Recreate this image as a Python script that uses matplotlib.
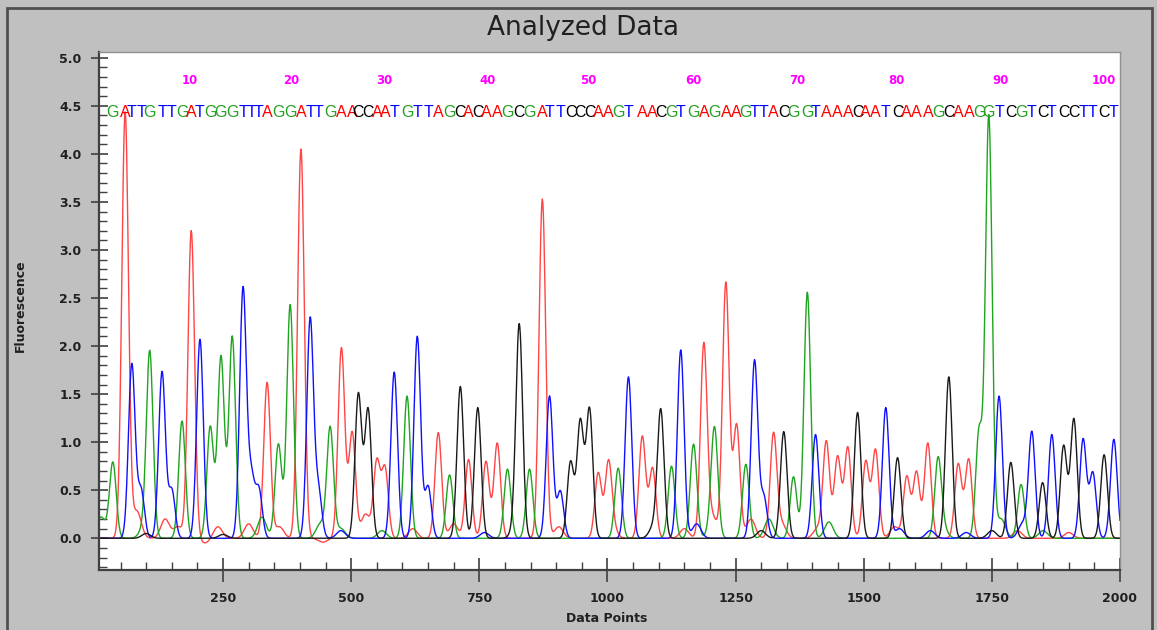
import numpy as np
import matplotlib
matplotlib.use("Agg")
import matplotlib.pyplot as plt
from matplotlib.patches import Rectangle
from matplotlib.ticker import MultipleLocator

plt.rcParams['font.family'] = ['Liberation Sans', 'DejaVu Sans']

# Base calls (sequence), peak positions (data points) and peak heights
sequence = ("GATTGTTGAT" "GGGTTTAGGA" "TTGAACCAAT" "GTTAGCACAA" "GCGATTCCCA"
            "AGTAACGTGA" "GAAGTTACGG" "TAAACAATCA" "AAGCAAGGTC" "GTCTCCTTCT")
base_pos = [35, 59, 72, 90, 107, 131, 150, 170, 188, 205,
            225, 246, 268, 289, 305, 320, 336, 358, 381, 402,
            420, 436, 459, 481, 502, 514, 533, 550, 566, 584,
            609, 629, 650, 670, 692, 713, 729, 747, 763, 785,
            805, 828, 848, 873, 887, 908, 928, 947, 965, 982,
            1002, 1021, 1041, 1068, 1088, 1104, 1125, 1143, 1168, 1188,
            1209, 1231, 1252, 1270, 1287, 1305, 1324, 1344, 1363, 1390,
            1406, 1427, 1449, 1469, 1488, 1504, 1523, 1543, 1566, 1584,
            1603, 1625, 1645, 1666, 1684, 1705, 1725, 1744, 1764, 1787,
            1807, 1828, 1849, 1867, 1890, 1910, 1928, 1947, 1969, 1988]
base_height = [0.79, 4.43, 1.81, 0.50, 1.92, 1.73, 0.50, 1.22, 3.20, 2.07,
               1.16, 1.89, 2.10, 2.59, 0.62, 0.50, 1.62, 0.98, 2.43, 4.05,
               2.28, 0.50, 1.15, 1.98, 1.10, 1.50, 1.34, 0.79, 0.72, 1.73,
               1.48, 2.10, 0.54, 1.10, 0.66, 1.58, 0.82, 1.36, 0.80, 0.99,
               0.72, 2.17, 0.72, 3.53, 1.48, 0.49, 0.79, 1.21, 1.34, 0.68,
               0.75, 0.73, 1.68, 1.06, 0.73, 1.32, 0.75, 1.96, 0.98, 2.01,
               1.03, 2.66, 1.18, 0.77, 1.85, 0.43, 1.08, 1.11, 0.64, 2.56,
               1.08, 1.00, 0.75, 0.94, 1.31, 0.80, 0.92, 1.36, 0.84, 0.64,
               0.69, 0.99, 0.80, 1.68, 0.68, 0.80, 1.11, 4.39, 1.48, 0.79,
               0.56, 1.10, 0.58, 1.08, 0.96, 1.24, 1.03, 0.68, 0.87, 1.03]

# small background peaks (position, height) per channel
minor = {
    'A': [(82, 0.28), (137, 0.2), (162, 0.12), (215, -0.05), (240, 0.12), (300, 0.15),
          (360, 0.12), (445, -0.04), (528, 0.25), (620, 0.1), (700, 0.15), (905, 0.12),
          (1010, 0.1), (1150, 0.1), (1205, 0.22), (1280, 0.2), (1340, 0.15),
          (1410, 0.1), (1450, 0.1), (1560, 0.12), (1690, 0.12), (1800, 0.08),
          (1900, 0.06)],
    'C': [(100, 0.05), (250, 0.04), (820, 0.1), (1090, 0.12), (1300, 0.08), (1750, 0.08)],
    'G': [(12, 0.22), (95, 0.1), (326, 0.22), (440, 0.15), (480, 0.1), (560, 0.08),
          (1205, 0.15), (1315, 0.2), (1432, 0.17), (1655, 0.1), (1768, 0.2),
          (1850, 0.08)],
    'T': [(480, 0.08), (760, 0.06), (1174, 0.15), (1570, 0.1), (1630, 0.08),
          (1700, 0.06), (1810, 0.15)],
}

channel_colors = {'A': '#ff4545', 'C': '#1a1a1a', 'G': '#1fa51f', 'T': '#1010ff'}
letter_colors = {'A': '#ff0000', 'C': '#000000', 'G': '#22a022', 'T': '#0000ff'}

x = np.arange(0, 2001)
sigma = 6.5
px = 72 / 100  # points per pixel at 100 dpi

fig = plt.figure(figsize=(11.57, 6.30), dpi=100)
fig.patch.set_facecolor('#c0c0c0')
fig.patches.append(Rectangle((7 / 1157, -0.05), 1145 / 1157, 1.05 - 8 / 630,
                             transform=fig.transFigure, fill=False,
                             edgecolor='#505050', lw=2))

ax = fig.add_axes([99 / 1157, 1 - 570 / 630, 1021 / 1157, 518 / 630])
ax.set_facecolor('white')

for ch in ['A', 'G', 'T', 'C']:
    y = np.zeros_like(x, dtype=float)
    for b, p, h in zip(sequence, base_pos, base_height):
        if b == ch:
            y += h * np.exp(-(x - p) ** 2 / (2 * sigma ** 2))
    for p, h in minor[ch]:
        y += h * np.exp(-(x - p) ** 2 / (2 * (sigma * 1.3) ** 2))
    ax.plot(x, y, color=channel_colors[ch], lw=1.0)

# base call letters
for b, p in zip(sequence, base_pos):
    ax.text(p, 4.43, b, color=letter_colors[b], ha='center', va='center',
            fontsize=11.5, zorder=5,
            family=['Liberation Sans Narrow', 'Liberation Sans', 'DejaVu Sans'])

# position numbers
for i in range(10, 101, 10):
    ax.annotate(str(i), (base_pos[i - 1], 4.76), xytext=(-10, 0),
                textcoords='offset pixels', color='#ff00ff', fontweight='bold',
                fontsize=8.5, ha='center', va='center', family='DejaVu Sans')

ax.set_xlim(8, 2000)
ax.set_ylim(-0.33, 5.06)
ax.xaxis.set_minor_locator(MultipleLocator(50))
ax.yaxis.set_minor_locator(MultipleLocator(0.1))
ax.set_yticks(np.arange(0, 5.01, 0.5))
ax.set_yticklabels([f"{v:.1f}" for v in np.arange(0, 5.01, 0.5)])
ax.set_xticks([250, 500, 750, 1000, 1250, 1500, 1750, 2000])

ax.tick_params(axis='both', which='both', color='#404040', labelsize=9,
               labelcolor='#202020')
ax.tick_params(axis='x', which='major', direction='inout', length=24 * px, width=1.2,
               pad=10 * px)
ax.tick_params(axis='y', which='major', direction='inout', length=17 * px, width=1.2,
               pad=9 * px)
ax.tick_params(axis='both', which='minor', direction='in', length=8 * px, width=1)
for lab in ax.get_xticklabels() + ax.get_yticklabels():
    lab.set_fontweight('bold')
    lab.set_family('DejaVu Sans')

for side in ['left', 'bottom']:
    ax.spines[side].set_color('#404040')
    ax.spines[side].set_linewidth(1.6)
for side in ['top', 'right']:
    ax.spines[side].set_color('#909090')
    ax.spines[side].set_linewidth(1)

ax.set_xlabel("Data Points", fontsize=9, fontweight='bold', color='#202020',
              family='DejaVu Sans')
ax.xaxis.set_label_coords((607 - 99) / 1021, -0.081)
ax.set_ylabel("Fluorescence", fontsize=9, fontweight='bold', color='#202020',
              family='DejaVu Sans')
ax.yaxis.set_label_coords(-0.0705, 0.51)

fig.text(583 / 1157, 1 - 28 / 630, "Analyzed Data", fontsize=19,
         color='#202020', ha='center', va='center', family='DejaVu Sans')

fig.savefig("out.png", dpi=100, facecolor=fig.get_facecolor())
